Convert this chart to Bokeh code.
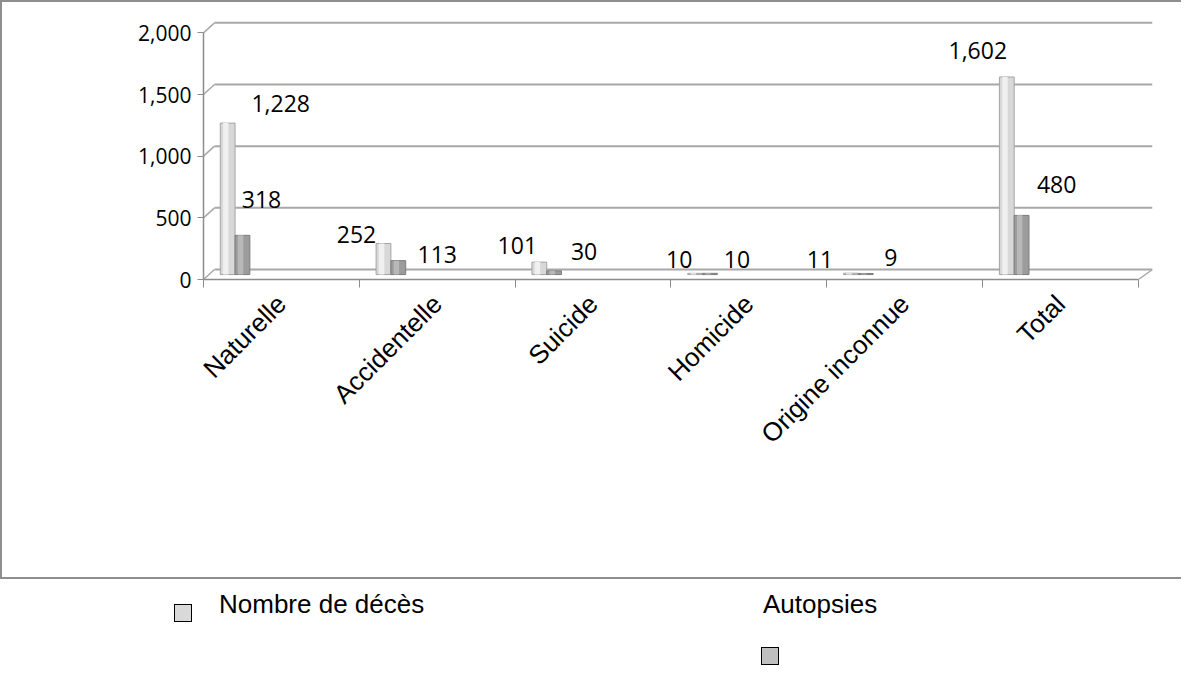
from math import pi
from bokeh.plotting import figure
from bokeh.models import Range1d, FixedTicker, NumeralTickFormatter, Div
from bokeh.layouts import column
from bokeh.embed import file_html
from bokeh.resources import INLINE
from bokeh.core.properties import value

# ---------------- data ----------------
categories = ["Naturelle", "Accidentelle", "Suicide", "Homicide", "Origine inconnue", "Total"]
deces = [1228, 252, 101, 10, 11, 1602]
autopsies = [318, 113, 30, 10, 9, 480]
y_ticks = [0, 500, 1000, 1500, 2000]
legend_names = ["Nombre de décès", "Autopsies"]
legend_colors = ["#d9d9d9", "#bfbfbf"]

# ---------------- styles (3-D look, label placement) ----------------
DEPTH_Y = 81        # back-wall offset in value units (~10 px)
DEPTH_X = 0.0706    # back-wall offset in category units (~11 px)
BAR_BASE = 40       # bars stand half way into the floor
X_END = 6.09
LIGHT_POS, DARK_POS, BAR_W = 0.155, 0.25, 0.095
light_dx = [53, -27, -22, -16, -31, -29]
light_dy = [-20, -9, -17, -14, -14, -26]
dark_dx = [19, 39, 30, 27, 25, 35]
dark_dy = [-36, -6, -19, -14, -16, -31]
GRID = "#a8a8a8"
AXIS = "#8c8c8c"
BORDER = "2px solid #8e8e8e"

n = len(categories)
centers = [i + 0.5 for i in range(n)]
xs_light = [i + LIGHT_POS for i in range(n)]
xs_dark = [i + DARK_POS for i in range(n)]

p = figure(width=1181, height=579, x_range=Range1d(0, X_END), y_range=Range1d(0, 2100),
           output_backend="svg", toolbar_location=None,
           min_border_left=201, min_border_right=31, min_border_top=18, min_border_bottom=302)
p.xgrid.visible = False
p.ygrid.visible = False
p.outline_line_color = None
p.background_fill_color = "white"
p.border_fill_color = "white"
p.styles = {"border-top": BORDER, "border-left": BORDER, "border-bottom": BORDER}

# back wall gridlines + diagonal connectors
p.segment(x0=[DEPTH_X] * len(y_ticks), y0=[v + DEPTH_Y for v in y_ticks],
          x1=[X_END] * len(y_ticks), y1=[v + DEPTH_Y for v in y_ticks],
          line_color=GRID, line_width=2)
p.segment(x0=[0] * len(y_ticks), y0=y_ticks,
          x1=[DEPTH_X] * len(y_ticks), y1=[v + DEPTH_Y for v in y_ticks],
          line_color=GRID, line_width=1.5)
p.segment(x0=[n], y0=[0], x1=[X_END], y1=[DEPTH_Y], line_color=GRID, line_width=1.5)

# bars
p.vbar(x=xs_light, width=BAR_W, bottom=BAR_BASE, top=[v + BAR_BASE for v in deces],
       fill_color="#d8d8d8", line_color="#a4a4a4", line_width=1)
p.vbar(x=[x - 0.012 for x in xs_light], width=0.035, bottom=BAR_BASE,
       top=[v + BAR_BASE for v in deces], fill_color="#f0f0f0", line_color=None)
p.vbar(x=xs_dark, width=BAR_W, bottom=BAR_BASE, top=[v + BAR_BASE for v in autopsies],
       fill_color="#9c9c9c", line_color="#7c7c7c", line_width=1)
p.vbar(x=[x - 0.012 for x in xs_dark], width=0.035, bottom=BAR_BASE,
       top=[v + BAR_BASE for v in autopsies], fill_color="#b8b8b8", line_color=None)

# data labels
p.text(x=xs_light, y=[v + BAR_BASE for v in deces], text=[f"{v:,}" for v in deces],
       x_offset=light_dx, y_offset=light_dy, text_align="center", text_baseline="middle",
       text_font=value("Open Sans"), text_font_size="23px", text_color="black")
p.text(x=xs_dark, y=[v + BAR_BASE for v in autopsies], text=[f"{v:,}" for v in autopsies],
       x_offset=dark_dx, y_offset=dark_dy, text_align="center", text_baseline="middle",
       text_font=value("Open Sans"), text_font_size="23px", text_color="black")

# y axis (front plane)
ya = p.yaxis[0]
ya.ticker = FixedTicker(ticks=y_ticks, minor_ticks=[])
ya.formatter = NumeralTickFormatter(format="0,0")
ya.bounds = (0, 2000)
ya.axis_line_color = AXIS
ya.axis_line_width = 1.5
ya.major_tick_line_color = AXIS
ya.major_tick_out = 6
ya.major_tick_in = 0
ya.major_label_standoff = 6
ya.major_label_text_font = "Open Sans"
ya.major_label_text_font_size = "21px"
ya.major_label_text_color = "black"

# x axis: ticks at category boundaries, labels at centers
xa = p.xaxis[0]
xa.ticker = FixedTicker(ticks=centers, minor_ticks=list(range(n + 1)))
xa.major_label_overrides = {c: name for c, name in zip(centers, categories)}
xa.bounds = (0, n)
xa.axis_line_color = AXIS
xa.axis_line_width = 1.5
xa.major_tick_line_color = None
xa.major_tick_out = 8
xa.minor_tick_line_color = AXIS
xa.minor_tick_out = 8
xa.minor_tick_in = 0
xa.major_label_orientation = pi / 4
xa.major_label_standoff = 12
xa.major_label_text_font = "Liberation Sans"
xa.major_label_text_font_size = "26px"
xa.major_label_text_color = "black"

# legend below the bordered chart (Excel-like layout: second key wrapped under its text)
# positions in px relative to the legend block
sq_pos = [(174, 25), (761, 68)]
txt_pos = [(219, 12), (763, 12)]
items = []
for (sx, sy), (tx, ty), name, col in zip(sq_pos, txt_pos, legend_names, legend_colors):
    items.append(
        f'<div style="position:absolute;left:{sx}px;top:{sy}px;width:16px;height:16px;'
        f'background:{col};border:1.5px solid #000;box-sizing:content-box;"></div>'
        f'<div style="position:absolute;left:{tx}px;top:{ty}px;white-space:nowrap;'
        f'font-family:\'Liberation Sans\',Arial,sans-serif;font-size:26px;line-height:26px;'
        f'color:#000;">{name}</div>'
    )
legend_html = ('<div style="position:relative;width:1183px;height:89px;margin:0;padding:0;">'
               + "".join(items) + "</div>")
leg = Div(text=legend_html, width=1183, height=89, margin=(0, 0, 0, 0))

layout = column(p, leg, spacing=0, styles={"margin-bottom": "-16px"})
open("out.html", "w").write(file_html(layout, INLINE))
